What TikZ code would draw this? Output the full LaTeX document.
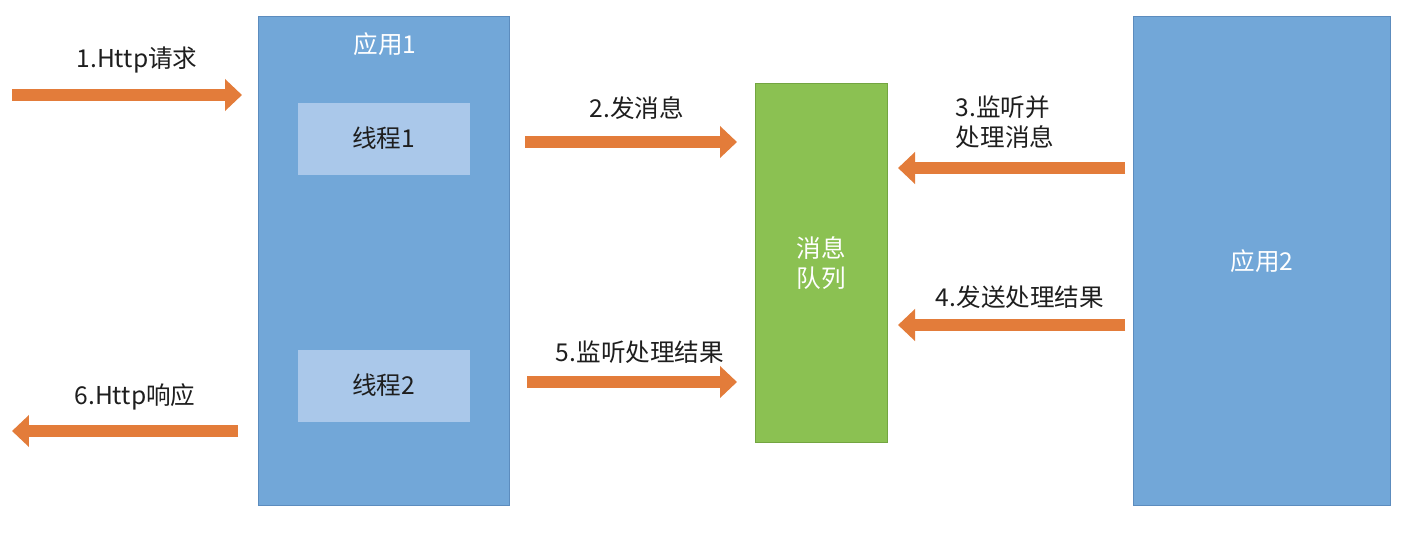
\documentclass[tikz,border=0pt]{standalone}
\usepackage{fontspec}
\setmainfont{Noto Sans CJK SC}
\usetikzlibrary{arrows.meta}
\definecolor{appblue}{RGB}{114,167,216}
\definecolor{appedge}{RGB}{92,140,190}
\definecolor{thr}{RGB}{170,200,234}
\definecolor{qgreen}{RGB}{139,193,82}
\definecolor{qedge}{RGB}{115,165,65}
\definecolor{arr}{RGB}{227,124,58}
\definecolor{txt}{RGB}{30,30,30}
\tikzset{
 box/.style={anchor=north west,inner sep=0pt,draw=appedge,fill=appblue,line width=0.6pt},
 lbl/.style={font=\fontsize{14}{17}\selectfont,text=txt,align=left},
 wl/.style={font=\fontsize{14}{17}\selectfont,text=white,align=center},
 fat/.style={draw=arr,line width=0.24cm,-{Triangle[length=0.34cm,width=0.62cm]}}
}
\begin{document}
\begin{tikzpicture}[x=0.02cm,y=-0.02cm]
\useasboundingbox (0,0) rectangle (1422,551);
\fill[white] (0,0) rectangle (1422,551);
\node[box,minimum width=5.02cm,minimum height=9.78cm] (app1) at (258,16) {};
\node[wl] (app1t) at (385,44) {应用1};
\node[box,draw=none,fill=thr,minimum width=3.44cm,minimum height=1.44cm] (t1) at (297,102) {};
\node[lbl] at (t1.center) {线程1};
\node[box,draw=none,fill=thr,minimum width=3.44cm,minimum height=1.44cm] (t2) at (297,349) {};
\node[lbl] at (t2.center) {线程2};
\node[box,draw=qedge,fill=qgreen,minimum width=2.64cm,minimum height=7.18cm] (q) at (755,83) {};
\node[wl] at (q.center) {消息\\队列};
\node[box,minimum width=5.14cm,minimum height=9.78cm] (app2) at (1133,16) {};
\node[wl] at (app2.center) {应用2};
\coordinate (a1s) at (12,95); \coordinate (a1e) at (242,95);
\coordinate (a2s) at (525,142); \coordinate (a2e) at (737,142);
\coordinate (a3s) at (1125,168); \coordinate (a3e) at (898,168);
\coordinate (a4s) at (1125,325); \coordinate (a4e) at (898,325);
\coordinate (a5s) at (527,382); \coordinate (a5e) at (737,382);
\coordinate (a6s) at (238,431); \coordinate (a6e) at (12,431);
\draw[fat] (a1s) -- (a1e);
\draw[fat] (a2s) -- (a2e);
\draw[fat] (a3s) -- (a3e);
\draw[fat] (a4s) -- (a4e);
\draw[fat] (a5s) -- (a5e);
\draw[fat] (a6s) -- (a6e);
\node[lbl] (l1) at (137,60) {1.Http请求};
\node[lbl] (l2) at (637,108) {2.发消息};
\node[lbl] (l3) at (1005,122) {3.监听并\\处理消息};
\node[lbl] (l4) at (1020,297) {4.发送处理结果};
\node[lbl] (l5) at (640,352) {5.监听处理结果};
\node[lbl] (l6) at (135,397) {6.Http响应};
\end{tikzpicture}
\end{document}
